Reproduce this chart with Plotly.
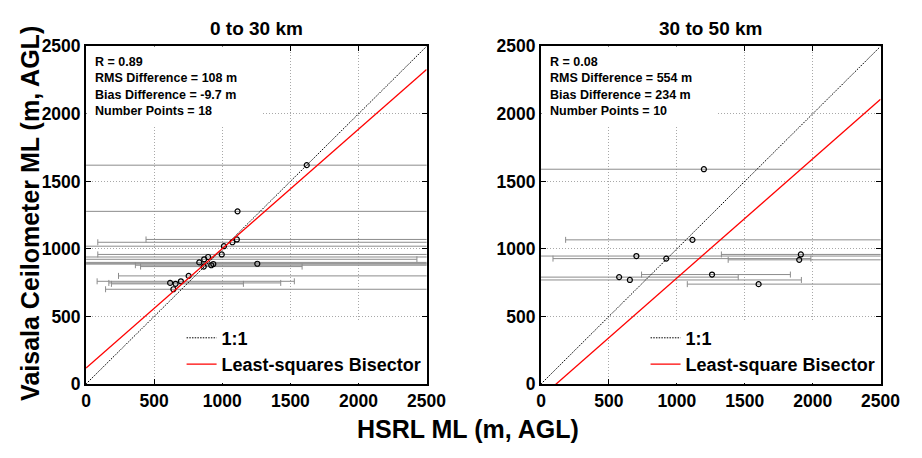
import plotly.graph_objects as go

# ---------------- data ----------------
# 0 to 30 km
hsrl_near = [1620, 1112, 1107, 1074, 1012, 996, 896, 867, 831, 864, 919, 934, 1257, 753, 696, 657, 617, 641]
ceil_near = [1620, 1278, 1070, 1049, 1020, 959, 940, 923, 900, 869, 879, 888, 890, 800, 760, 741, 748, 701]
lo_near = [-300, -300, 440, 86, -300, 86, -300, -300, -300, 400, 362, -300, -300, 238, 81, 186, 167, 143]
hi_near = [2900, 2900, 2900, 2900, 2900, 2900, 2900, 2429, 2900, 1586, 2900, 2900, 2900, 2900, 1529, 1155, 1429, 2900]
fit_near = (118, 0.884)  # intercept, slope
stats_near = ["R = 0.89", "RMS Difference = 108 m", "Bias Difference = -9.7 m", "Number Points = 18"]

# 30 to 50 km
hsrl_far = [1199, 1115, 702, 922, 1913, 1901, 575, 654, 1259, 1602]
ceil_far = [1590, 1067, 947, 928, 959, 919, 791, 770, 810, 739]
lo_far = [-300, 181, -300, 88, 1328, 1378, -300, -300, 740, 1077]
hi_far = [2900, 2900, 2900, 1987, 2900, 2900, 1452, 1917, 1836, 2900]
fit_far = (-99, 0.883)
stats_far = ["R = 0.08", "RMS Difference = 554 m", "Bias Difference = 234 m", "Number Points = 10"]

axis_range = [0, 2500]
tick_vals = [0, 500, 1000, 1500, 2000, 2500]
titles = ["0 to 30 km", "30 to 50 km"]
fit_names = ["Least-squares Bisector", "Least-square Bisector"]

FONT = "Liberation Sans, Arial, Helvetica, sans-serif"

fig = go.Figure()

panels = [
    (hsrl_near, ceil_near, lo_near, hi_near, fit_near, "x", "y", "legend", fit_names[0]),
    (hsrl_far, ceil_far, lo_far, hi_far, fit_far, "x2", "y2", "legend2", fit_names[1]),
]

for xs, ys, lo, hi, fit, xa, ya, lg, fname in panels:
    fig.add_trace(go.Scatter(
        x=xs, y=ys, mode="markers", xaxis=xa, yaxis=ya, showlegend=False,
        marker=dict(symbol="circle-open", size=5, color="black", line=dict(width=1.2)),
        error_x=dict(type="data", symmetric=False,
                     array=[h - x for h, x in zip(hi, xs)],
                     arrayminus=[x - l for x, l in zip(xs, lo)],
                     color="#8c8c8c", thickness=1, width=3),
    ))
    fig.add_trace(go.Scatter(
        x=axis_range, y=axis_range, mode="lines", xaxis=xa, yaxis=ya,
        name="1:1", legend=lg,
        line=dict(color="black", width=1, dash="1.5px,1.2px"),
    ))
    a, b = fit
    fig.add_trace(go.Scatter(
        x=axis_range, y=[a + b * v for v in axis_range], mode="lines", xaxis=xa, yaxis=ya,
        name=fname, legend=lg,
        line=dict(color="#ff0000", width=1.3),
    ))

ax_common = dict(
    range=axis_range, tickvals=tick_vals, ticks="inside", ticklen=5, tickwidth=1,
    tickcolor="black", showline=True, linecolor="black", linewidth=2, mirror="ticks",
    showgrid=True, gridcolor="#a8a8a8", griddash="1px,2px", gridwidth=1, zeroline=False,
    tickfont=dict(family=FONT, size=17.5, color="black", weight="bold"),
)

ydom = [0.1463, 0.917]
fig.update_layout(
    width=922, height=458, autosize=False,
    margin=dict(l=0, r=0, t=0, b=0, pad=0),
    paper_bgcolor="white", plot_bgcolor="white",
    font=dict(family=FONT, color="black", weight="bold"),
    xaxis=dict(domain=[0.0904, 0.4700], anchor="y", **ax_common),
    yaxis=dict(domain=ydom, anchor="x", **ax_common),
    xaxis2=dict(domain=[0.5976, 0.9761], anchor="y2", **ax_common),
    yaxis2=dict(domain=ydom, anchor="x2", **ax_common),
    legend=dict(x=0.4700, xanchor="right", y=ydom[0] + 0.003, yanchor="bottom",
                bgcolor="white", borderwidth=0, itemwidth=30,
                font=dict(family=FONT, size=18, color="black", weight="bold")),
    legend2=dict(x=0.9761, xanchor="right", y=ydom[0] + 0.003, yanchor="bottom",
                 bgcolor="white", borderwidth=0, itemwidth=30,
                 font=dict(family=FONT, size=18, color="black", weight="bold")),
    showlegend=True,
)

ann = []
for xr, yr, st, ttl in [("x domain", "y domain", stats_near, titles[0]),
                         ("x2 domain", "y2 domain", stats_far, titles[1])]:
    ann.append(dict(xref=xr, yref=yr, x=0, y=1, xanchor="left", yanchor="top",
                    text="<br>".join(st), showarrow=False, align="left", valign="top",
                    bgcolor="white", borderpad=8, width=158, height=62,
                    font=dict(family=FONT, size=12.5, color="black", weight="bold")))
    ann.append(dict(xref=xr, yref="paper", x=0.5, y=0.958, xanchor="center", yanchor="middle",
                    text=ttl, showarrow=False,
                    font=dict(family=FONT, size=19, color="black", weight="bold")))

ann.append(dict(xref="paper", yref="paper", x=0.027, y=0.535, textangle=-90,
                text="Vaisala Ceilometer ML (m, AGL)", showarrow=False,
                xanchor="center", yanchor="middle",
                font=dict(family=FONT, size=25, color="black", weight="bold")))
ann.append(dict(xref="paper", yref="paper", x=0.516, y=0.043,
                text="HSRL ML (m, AGL)", showarrow=False,
                xanchor="center", yanchor="middle",
                font=dict(family=FONT, size=25, color="black", weight="bold")))
fig.update_layout(annotations=ann)

fig.write_html(
    "out.html",
    post_script="document.body.style.margin='0';document.body.style.padding='0';",
)
